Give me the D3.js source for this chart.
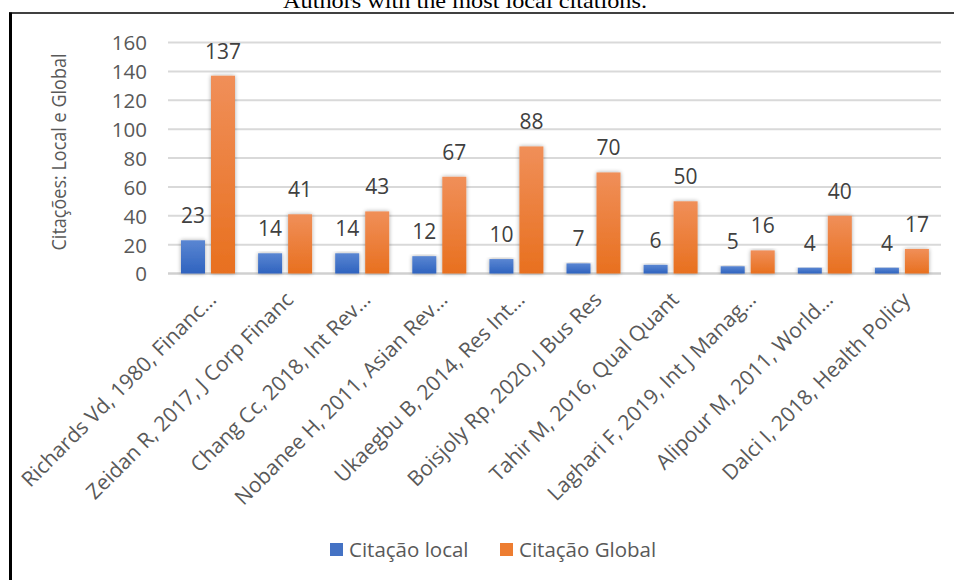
<!DOCTYPE html>
<html>
<head>
<meta charset="utf-8">
<script src="https://cdn.jsdelivr.net/npm/d3@7"></script>
<style>
  html, body { margin: 0; padding: 0; background: #fff; }
  svg { display: block; }
  text { font-family: "Open Sans", Carlito, Calibri, sans-serif; }
</style>
</head>
<body>
<svg id="chart" width="954" height="580"></svg>
<script>
const categories = [
  "Richards Vd, 1980, Financ…",
  "Zeidan R, 2017, J Corp Financ",
  "Chang Cc, 2018, Int Rev…",
  "Nobanee H, 2011, Asian Rev…",
  "Ukaegbu B, 2014, Res Int…",
  "Boisjoly Rp, 2020, J Bus Res",
  "Tahir M, 2016, Qual Quant",
  "Laghari F, 2019, Int J Manag…",
  "Alipour M, 2011, World…",
  "Dalci I, 2018, Health Policy"
];
const localCitations  = [23, 14, 14, 12, 10, 7, 6, 5, 4, 4];
const globalCitations = [137, 41, 43, 67, 88, 70, 50, 16, 40, 17];
const seriesNames = ["Citação local", "Citação Global"];
const yTicks = [0, 20, 40, 60, 80, 100, 120, 140, 160];
const titleText = "Authors with the most local citations.";
const yAxisTitle = "Citações: Local e Global";

const svg = d3.select("#chart");
const defs = svg.append("defs");

function grad(id, top, bottom) {
  const g = defs.append("linearGradient").attr("id", id)
    .attr("x1", 0).attr("y1", 0).attr("x2", 0).attr("y2", 1);
  g.append("stop").attr("offset", "0%").attr("stop-color", top);
  g.append("stop").attr("offset", "100%").attr("stop-color", bottom);
}
grad("gBlue", "#5a86d2", "#2f63bf");
grad("gOrange", "#f08f59", "#e8701f");

const f = defs.append("filter").attr("id", "shadow")
  .attr("x", "-30%").attr("y", "-10%").attr("width", "160%").attr("height", "130%");
f.append("feGaussianBlur").attr("in", "SourceAlpha").attr("stdDeviation", 2.2).attr("result", "b");
f.append("feComponentTransfer").attr("in", "b").attr("result", "s")
  .append("feFuncA").attr("type", "linear").attr("slope", 0.35);
const m = f.append("feMerge");
m.append("feMergeNode").attr("in", "s");
m.append("feMergeNode").attr("in", "SourceGraphic");

// frame lines
svg.append("line").attr("x1", 9).attr("x2", 954).attr("y1", 13).attr("y2", 13)
  .attr("stroke", "#000").attr("stroke-width", 1.5);
svg.append("line").attr("x1", 10.5).attr("x2", 10.5).attr("y1", 12.5).attr("y2", 580)
  .attr("stroke", "#000").attr("stroke-width", 3);

// title (cropped at top, as in the reference)
svg.append("text").attr("x", 465).attr("y", 8)
  .attr("text-anchor", "middle")
  .style("font-family", "'Liberation Serif', 'Times New Roman', serif")
  .style("font-size", "21px").attr("fill", "#000")
  .attr("textLength", 364).attr("lengthAdjust", "spacingAndGlyphs")
  .text(titleText);

const x = d3.scaleBand().domain(categories).range([170, 941]).padding(0);
const xs = d3.scaleBand().domain(seriesNames).range([11, 65]).paddingInner(0.2);
const y = d3.scaleLinear().domain([0, 160]).range([273.5, 42.5]);

// gridlines
svg.append("g").selectAll("line").data(yTicks).join("line")
  .attr("x1", 168).attr("x2", 941)
  .attr("y1", d => y(d)).attr("y2", d => y(d))
  .attr("stroke", d => d === 0 ? "#d0d0d0" : "#d9d9d9")
  .attr("stroke-width", d => d === 0 ? 2.5 : 2);

// y tick labels
const yAxis = d3.axisLeft(y).tickValues(yTicks).tickSize(0).tickPadding(0);
const ga = svg.append("g").attr("transform", "translate(147,0)").call(yAxis);
ga.select(".domain").remove();
ga.selectAll("text").attr("fill", "#595959").style("font-size", "20.5px")
  .style("font-family", "'Open Sans', sans-serif").attr("dy", "0.36em");

// y axis title
svg.append("text")
  .attr("transform", "translate(66,152) rotate(-90)")
  .attr("text-anchor", "middle").attr("fill", "#595959")
  .style("font-size", "20px")
  .attr("textLength", 197).attr("lengthAdjust", "spacingAndGlyphs")
  .text(yAxisTitle);

const rows = categories.map((c, i) => ({ cat: c, vals: [localCitations[i], globalCitations[i]] }));
const fills = ["url(#gBlue)", "url(#gOrange)"];

const groups = svg.append("g").selectAll("g").data(rows).join("g")
  .attr("transform", d => `translate(${x(d.cat)},0)`);

groups.selectAll("rect").data(d => d.vals.map((v, k) => ({ v, k }))).join("rect")
  .attr("x", d => xs(seriesNames[d.k]))
  .attr("width", xs.bandwidth())
  .attr("y", d => y(d.v))
  .attr("height", d => y(0) - y(d.v))
  .attr("fill", d => fills[d.k])
  .attr("filter", "url(#shadow)");

groups.selectAll("text.lbl").data(d => d.vals.map((v, k) => ({ v, k }))).join("text")
  .attr("class", "lbl")
  .attr("x", d => xs(seriesNames[d.k]) + xs.bandwidth() / 2)
  .attr("y", d => y(d.v) - 17)
  .attr("text-anchor", "middle").attr("fill", "#404040")
  .style("font-size", "21px")
  .text(d => d.v);

// category labels rotated
svg.append("g").selectAll("text").data(categories).join("text")
  .attr("transform", d => `translate(${x(d) + x.bandwidth() / 2 + 9},301) rotate(-45)`)
  .attr("text-anchor", "end").attr("fill", "#595959")
  .style("font-size", "21px")
  .text(d => d);

// legend
const leg = svg.append("g");
const legItems = [
  { name: seriesNames[0], fill: "#4472c4", x: 330 },
  { name: seriesNames[1], fill: "#ed7d31", x: 500 }
];
legItems.forEach(it => {
  leg.append("rect").attr("x", it.x).attr("y", 543).attr("width", 13).attr("height", 13).attr("fill", it.fill);
  leg.append("text").attr("x", it.x + 19).attr("y", 550).attr("dy", "0.36em")
    .attr("fill", "#595959").style("font-size", "20.5px").text(it.name);
});
</script>
</body>
</html>
